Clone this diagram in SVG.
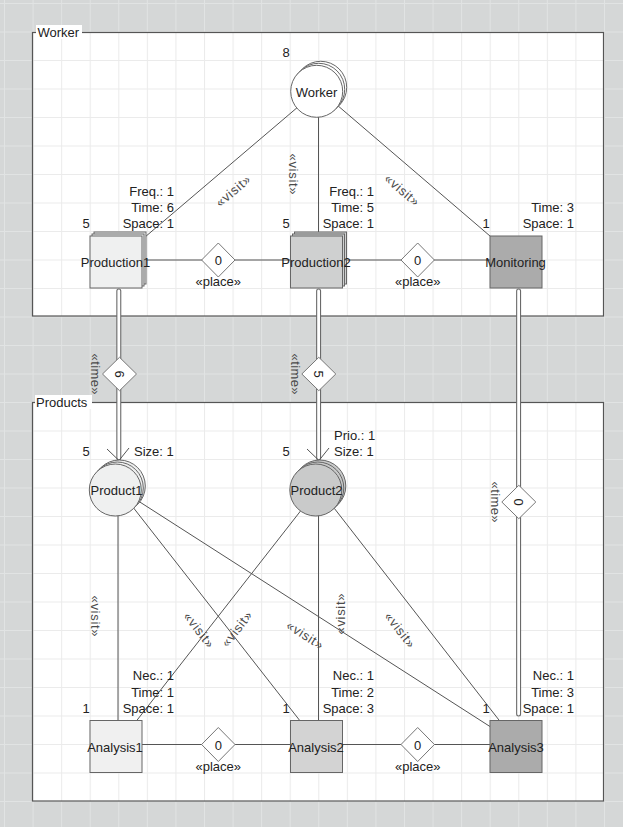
<svg xmlns="http://www.w3.org/2000/svg" width="623" height="827" viewBox="0 0 623 827">
  <defs>
    <pattern id="gridOut" patternUnits="userSpaceOnUse" x="4" y="3" width="28.57" height="28.5">
      <rect width="28.57" height="28.5" fill="#d5d7d7"/>
      <path d="M0.5 0V28.5M0 0.5H28.57" stroke="#e1e3e3" stroke-width="1"/>
    </pattern>
    <pattern id="gridIn" patternUnits="userSpaceOnUse" x="4" y="3" width="28.57" height="28.5">
      <rect width="28.57" height="28.5" fill="#ffffff"/>
      <path d="M0.5 0V28.5M0 0.5H28.57" stroke="#ebebeb" stroke-width="1"/>
    </pattern>
    <style>
      text { font-family: "Liberation Sans", Arial, sans-serif; font-size: 13px; fill: #222; }
      .mid { text-anchor: middle; }
      .end { text-anchor: end; }
      .stereo { fill: #4a4a4a; }
      .frame { fill: url(#gridIn); stroke: #555; stroke-width: 1.2; }
      .edge { stroke: #555; stroke-width: 1; fill: none; }
      .dblOuter { stroke: #6a6a6a; stroke-width: 5; fill: none; stroke-linecap: round; }
      .dblInner { stroke: #ffffff; stroke-width: 2.8; fill: none; stroke-linecap: round; }
      .dia { fill: #fff; stroke: #777; stroke-width: 1; }
      .node { stroke: #666; stroke-width: 1; }
      .light { fill: #eff0f0; }
      .medium { fill: #cfd0d0; }
      .dark { fill: #ababab; }
      .white { fill: #ffffff; }
      .arrow { stroke: #555; stroke-width: 1; fill: none; }
    </style>
    <polygon id="diamond" class="dia" points="0,-17 16.7,0 0,17 -16.7,0"/>
  </defs>

  <!-- canvas -->
  <rect width="623" height="827" fill="url(#gridOut)"/>

  <!-- containers -->
  <g id="frame-worker">
    <rect class="frame" x="32.5" y="32.5" width="571" height="283.5"/>
    <rect x="36" y="25" width="46" height="14" fill="#fff"/>
    <text x="37.5" y="37">Worker</text>
  </g>
  <g id="frame-products">
    <rect class="frame" x="32.5" y="402.5" width="571" height="398.5"/>
    <rect x="35" y="395" width="57" height="14" fill="#fff"/>
    <text x="36" y="407">Products</text>
  </g>

  <!-- connectors -->
  <g id="connectors">
    <!-- worker visits -->
    <line class="edge" x1="318.7" y1="89.3" x2="118" y2="260"/>
    <line class="edge" x1="318.5" y1="89.3" x2="318.5" y2="260"/>
    <line class="edge" x1="318.7" y1="89.3" x2="518" y2="260"/>
    <!-- place links, top row -->
    <line class="edge" x1="118" y1="260" x2="518" y2="260"/>
    <!-- product visits -->
    <line class="edge" x1="118" y1="488" x2="118" y2="744.5"/>
    <line class="edge" x1="118" y1="488" x2="318.5" y2="744.5"/>
    <line class="edge" x1="118" y1="488" x2="518" y2="744.5"/>
    <line class="edge" x1="318.5" y1="488" x2="118" y2="744.5"/>
    <line class="edge" x1="318.5" y1="488" x2="318.5" y2="744.5"/>
    <line class="edge" x1="318.5" y1="488" x2="518" y2="744.5"/>
    <!-- place links, bottom row -->
    <line class="edge" x1="118" y1="744.5" x2="518" y2="744.5"/>

    <!-- time links (double lines) -->
    <line class="dblOuter" x1="118.8" y1="291" x2="118.8" y2="458"/>
    <line class="dblInner" x1="118.8" y1="291" x2="118.8" y2="458"/>
    <line class="dblOuter" x1="318.6" y1="291" x2="318.6" y2="458"/>
    <line class="dblInner" x1="318.6" y1="291" x2="318.6" y2="458"/>
    <line class="dblOuter" x1="518.6" y1="291" x2="518.6" y2="714"/>
    <line class="dblInner" x1="518.6" y1="291" x2="518.6" y2="714"/>
    <polyline class="arrow" points="107,449 119,460.5 129,448"/>
    <polyline class="arrow" points="307,449 319,460.5 329,448"/>

    <!-- decision diamonds -->
    <use href="#diamond" x="218.3" y="260"/>
    <text class="mid" x="218.3" y="265">0</text>
    <text class="mid" x="218.3" y="286">«place»</text>
    <use href="#diamond" x="417.7" y="260"/>
    <text class="mid" x="417.7" y="265">0</text>
    <text class="mid" x="417.7" y="286">«place»</text>
    <use href="#diamond" x="218.3" y="744.5"/>
    <text class="mid" x="218.3" y="749.5">0</text>
    <text class="mid" x="218.3" y="770.5">«place»</text>
    <use href="#diamond" x="417.7" y="744.5"/>
    <text class="mid" x="417.7" y="749.5">0</text>
    <text class="mid" x="417.7" y="770.5">«place»</text>

    <g transform="translate(119.5,374) rotate(90)">
      <use href="#diamond"/>
      <text class="mid" x="0" y="4.5">6</text>
    </g>
    <g transform="translate(318.8,374) rotate(90)">
      <use href="#diamond"/>
      <text class="mid" x="0" y="4.5">5</text>
    </g>
    <g transform="translate(518.8,502) rotate(90)">
      <use href="#diamond"/>
      <text class="mid" x="0" y="4.5">0</text>
    </g>
    <text class="mid stereo" transform="translate(95,374) rotate(90)" y="4.5" textLength="41" lengthAdjust="spacing">«time»</text>
    <text class="mid stereo" transform="translate(295.5,374) rotate(90)" y="4.5" textLength="41" lengthAdjust="spacing">«time»</text>
    <text class="mid stereo" transform="translate(495,502) rotate(90)" y="4.5" textLength="41" lengthAdjust="spacing">«time»</text>

    <!-- visit stereotypes -->
    <text class="mid stereo" transform="translate(233,191) rotate(-40.4)" y="4.5" textLength="41" lengthAdjust="spacing">«visit»</text>
    <text class="mid stereo" transform="translate(293.7,174) rotate(90)" y="4.5" textLength="41" lengthAdjust="spacing">«visit»</text>
    <text class="mid stereo" transform="translate(402,190) rotate(40.6)" y="4.5" textLength="41" lengthAdjust="spacing">«visit»</text>
    <text class="mid stereo" transform="translate(95.3,616) rotate(90)" y="4.5" textLength="41" lengthAdjust="spacing">«visit»</text>
    <text class="mid stereo" transform="translate(340,614) rotate(-90)" y="4.5" textLength="41" lengthAdjust="spacing">«visit»</text>
    <text class="mid stereo" transform="translate(199,630) rotate(52)" y="4.5" textLength="41" lengthAdjust="spacing">«visit»</text>
    <text class="mid stereo" transform="translate(236.7,629) rotate(-52)" y="4.5" textLength="41" lengthAdjust="spacing">«visit»</text>
    <text class="mid stereo" transform="translate(305,635) rotate(32.7)" y="4.5" textLength="41" lengthAdjust="spacing">«visit»</text>
    <text class="mid stereo" transform="translate(400,630) rotate(52)" y="4.5" textLength="41" lengthAdjust="spacing">«visit»</text>
  </g>

  <!-- Worker -->
  <g id="node-worker">
    <circle class="node white" cx="320.7" cy="87.3" r="26"/>
    <circle class="node white" cx="318.7" cy="89.3" r="26"/>
    <circle class="node white" cx="316.7" cy="91.3" r="26"/>
    <text class="mid" x="316.5" y="96.5">Worker</text>
    <text class="mid" x="286" y="56.5">8</text>
  </g>

  <!-- Production1 -->
  <g id="node-production1">
    <rect class="node light" x="94" y="232" width="52" height="52"/>
    <rect class="node light" x="92" y="234" width="52" height="52"/>
    <rect class="node light" x="90" y="236" width="52" height="52"/>
    <text class="mid" x="115.5" y="266.5">Production1</text>
    <text class="mid" x="86" y="228">5</text>
    <text class="end" x="174" y="196">Freq.: 1</text>
    <text class="end" x="174" y="212">Time: 6</text>
    <text class="end" x="174" y="228">Space: 1</text>
  </g>

  <!-- Production2 -->
  <g id="node-production2">
    <rect class="node medium" x="294.5" y="232" width="52" height="52"/>
    <rect class="node medium" x="292.5" y="234" width="52" height="52"/>
    <rect class="node medium" x="290.5" y="236" width="52" height="52"/>
    <text class="mid" x="316" y="266.5">Production2</text>
    <text class="mid" x="286" y="228">5</text>
    <text class="end" x="374" y="196">Freq.: 1</text>
    <text class="end" x="374" y="212">Time: 5</text>
    <text class="end" x="374" y="228">Space: 1</text>
  </g>

  <!-- Monitoring -->
  <g id="node-monitoring">
    <rect class="node dark" x="490" y="236" width="52" height="52"/>
    <text class="mid" x="515.5" y="266.5">Monitoring</text>
    <text class="mid" x="486" y="228">1</text>
    <text class="end" x="574" y="212">Time: 3</text>
    <text class="end" x="574" y="228">Space: 1</text>
  </g>

  <!-- Product1 -->
  <g id="node-product1">
    <circle class="node light" cx="119.3" cy="486" r="26"/>
    <circle class="node light" cx="117.3" cy="488" r="26"/>
    <circle class="node light" cx="115.3" cy="490" r="26"/>
    <text class="mid" x="116.5" y="494.5">Product1</text>
    <text class="mid" x="86" y="456">5</text>
    <text x="134" y="456">Size: 1</text>
  </g>

  <!-- Product2 -->
  <g id="node-product2">
    <circle class="node" fill="#c9caca" cx="319.8" cy="486" r="26"/>
    <circle class="node" fill="#c9caca" cx="317.8" cy="488" r="26"/>
    <circle class="node" fill="#c9caca" cx="315.8" cy="490" r="26"/>
    <text class="mid" x="316.5" y="494.5">Product2</text>
    <text class="mid" x="286" y="456">5</text>
    <text x="334" y="440">Prio.: 1</text>
    <text x="334" y="456">Size: 1</text>
  </g>

  <!-- Analysis1 -->
  <g id="node-analysis1">
    <rect class="node" fill="#f0f0f0" x="90" y="720.5" width="52" height="52"/>
    <text class="mid" x="115" y="751.5">Analysis1</text>
    <text class="mid" x="86" y="713">1</text>
    <text class="end" x="174" y="680">Nec.: 1</text>
    <text class="end" x="174" y="696.5">Time: 1</text>
    <text class="end" x="174" y="713">Space: 1</text>
  </g>

  <!-- Analysis2 -->
  <g id="node-analysis2">
    <rect class="node" fill="#d3d3d3" x="290.5" y="720.5" width="52" height="52"/>
    <text class="mid" x="316" y="751.5">Analysis2</text>
    <text class="mid" x="286" y="713">1</text>
    <text class="end" x="374" y="680">Nec.: 1</text>
    <text class="end" x="374" y="696.5">Time: 2</text>
    <text class="end" x="374" y="713">Space: 3</text>
  </g>

  <!-- Analysis3 -->
  <g id="node-analysis3">
    <rect class="node dark" x="490" y="720.5" width="52" height="52"/>
    <text class="mid" x="516" y="751.5">Analysis3</text>
    <text class="mid" x="486" y="713">1</text>
    <text class="end" x="574" y="680">Nec.: 1</text>
    <text class="end" x="574" y="696.5">Time: 3</text>
    <text class="end" x="574" y="713">Space: 1</text>
  </g>
</svg>
